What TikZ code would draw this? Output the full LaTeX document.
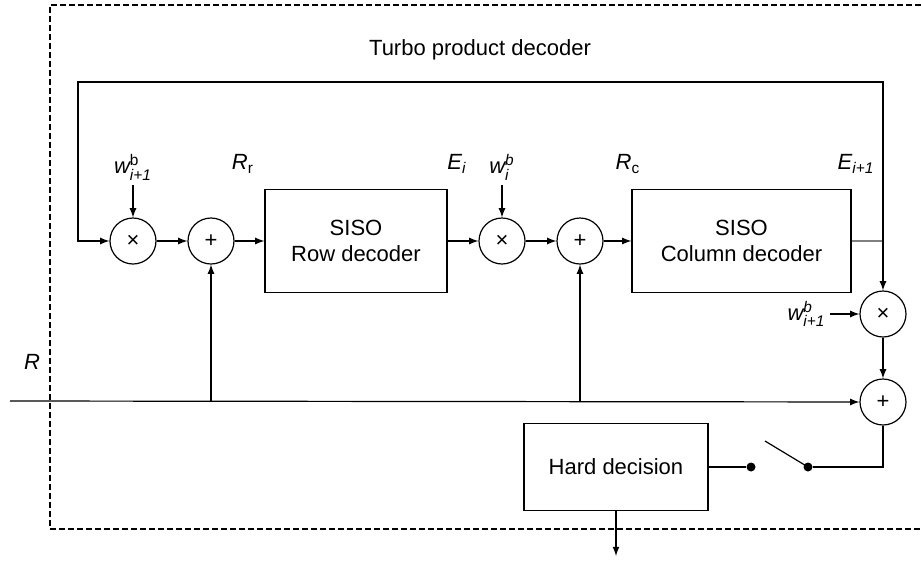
\documentclass[tikz,border=0pt]{standalone}
\usepackage{amsmath}
\usepackage{fontspec}
\setmainfont{Liberation Sans}
\tikzset{
  >=latex,
  every picture/.style={line width=0.6pt},
  op/.style={draw,circle,minimum size=23pt,inner sep=0pt},
  blk/.style={draw,minimum height=51.5pt,align=center},
  dot/.style={circle,fill,minimum size=4.5pt,inner sep=0pt},
  lbl/.style={inner sep=2pt}
}
\begin{document}
\begin{tikzpicture}[x=0.5pt,y=-0.5pt,font=\fontsize{11}{13}\selectfont]
\useasboundingbox (0,0) rectangle (921,563);
\draw[dash pattern=on 3pt off 1.5pt] (921,5) -| (50,529) -- (921,529);
\node (title) at (480,50) {Turbo product decoder};
\node (m1) [op] at (133,241) {×};
\node (a1) [op] at (211,241) {+};
\node (rowdec) [blk,minimum width=91pt] at (356,241) {SISO\\Row decoder};
\node (m2) [op] at (502,241) {×};
\node (a2) [op] at (580,241) {+};
\node (coldec) [blk,minimum width=109.5pt] at (741.5,241) {SISO\\Column decoder};
\node (m3) [op] at (883,314) {×};
\node (a3) [op] at (883,402) {+};
\node (hd) [draw,minimum width=92pt,minimum height=43.5pt] at (616,467) {Hard decision};
\node (wA) [lbl,anchor=south] at (133,185) {$\textit{w}^{\text{b}}_{\textit{i+1}}$};
\node (wB) [lbl,anchor=south] at (502,185) {$\textit{w}^{\textit{b}}_{\textit{i}}$};
\node (wC) [lbl,anchor=east] at (830,314) {$\textit{w}^{\textit{b}}_{\textit{i+1}}$};
\node (Rr) at (243,164) {$\textit{R}_{\text{r}}$};
\node (Ei) at (457,164) {$\textit{E}_{\textit{i}}$};
\node (Rc) at (628,164) {$\textit{R}_{\text{c}}$};
\node (Ei1) at (856,164) {$\textit{E}_{\textit{i+1}}$};
\node (R) at (32,362) {\textit{R}};
\node (s1) [dot] at (751,467) {};
\node (s2) [dot] at (808,467) {};
\coordinate (rin) at (10,401);
\coordinate (bA) at (211,401);
\coordinate (bB) at (580,401);
\coordinate (tl) at (78,82);
\coordinate (fb) at (883,241);
\coordinate (lev) at (765,441);
\coordinate (out) at (616,556);
\draw[->] (m1) -- (a1);
\draw[->] (a1) -- (rowdec);
\draw[->] (rowdec) -- (m2);
\draw[->] (m2) -- (a2);
\draw[->] (a2) -- (coldec);
\draw[gray] (coldec.east) -- (fb);
\draw[->] (fb) |- (tl) |- (m1);
\draw[->] (fb) -- (m3);
\draw[->] (m3) -- (a3);
\draw[->] (wA) -- (m1);
\draw[->] (wB) -- (m2);
\draw[->] (wC) -- (m3);
\draw[->] (rin) -- (a3);
\draw[->] (bA) -- (a1);
\draw[->] (bB) -- (a2);
\draw (a3) |- (s2);
\draw (s2.center) -- (lev);
\draw (hd) -- (s1);
\draw[->] (hd) -- (out);
\end{tikzpicture}
\end{document}
